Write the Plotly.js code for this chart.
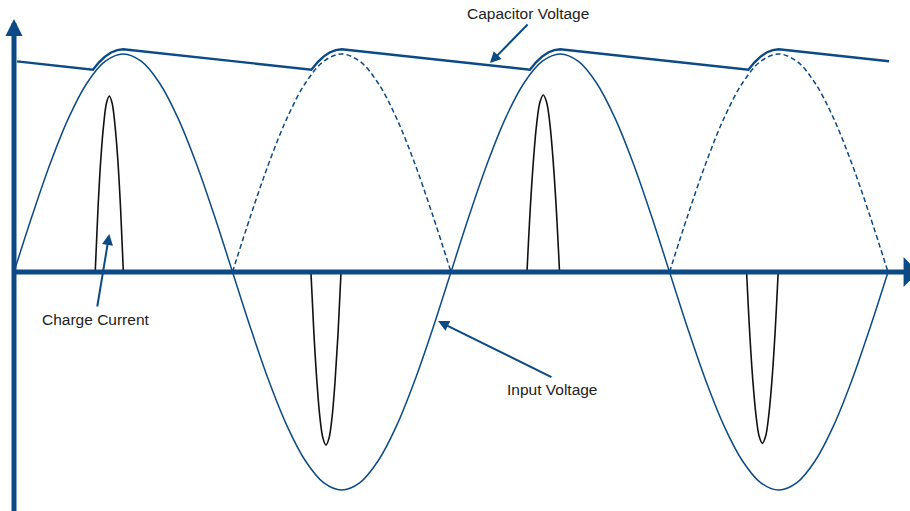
<!DOCTYPE html>
<html>
<head>
<meta charset="utf-8">
<script src="https://cdn.plot.ly/plotly-3.0.1.min.js"></script>
<style>html,body{margin:0;padding:0;background:#fff;}#chart{width:910px;height:511px;}</style>
</head>
<body>
<div id="chart"></div>
<script>
// phase angle (degrees) and normalised voltage
var inputT = [0,15,30,45,60,75,90,105,120,135,150,165,180,195,210,225,240,255,270,285,300,315,330,345,360,
              375,390,405,420,435,450,465,480,495,510,525,540,555,570,585,600,615,630,645,660,675,690,705,720];
var inputV = [0,0.259,0.5,0.707,0.866,0.966,1,0.966,0.866,0.707,0.5,0.259,0,-0.259,-0.5,-0.707,-0.866,-0.966,-1,-0.966,-0.866,-0.707,-0.5,-0.259,0,
              0.259,0.5,0.707,0.866,0.966,1,0.966,0.866,0.707,0.5,0.259,0,-0.259,-0.5,-0.707,-0.866,-0.966,-1,-0.966,-0.866,-0.707,-0.5,-0.259,0];

var rectT1 = [180,195,210,225,240,255,270,285,300,315,330,345,360];
var rectT2 = [540,555,570,585,600,615,630,645,660,675,690,705,720];
var rectV  = [0,0.259,0.5,0.707,0.866,0.966,1,0.966,0.866,0.707,0.5,0.259,0];

var capT = [2.5,65,70,75,80,85,90,245,250,255,260,265,270,425,430,435,440,445,450,605,610,615,620,625,630,720.8];
var capV = [0.966,0.928,0.962,0.988,1.007,1.018,1.022,0.928,0.962,0.988,1.007,1.018,1.022,
            0.928,0.962,0.988,1.007,1.018,1.022,0.928,0.962,0.988,1.007,1.018,1.022,0.967];

var pulse1T = [66.9,69.2,71.5,73.9,76.2,78.5,80.8,83.1,85.5,87.8,90.1];
var pulse1V = [0,0.291,0.516,0.678,0.775,0.807,0.775,0.678,0.516,0.291,0];
var pulse2T = [244.6,247.1,249.6,252.0,254.5,257.0,259.5,262.0,264.4,266.9,269.4];
var pulse2V = [0,-0.286,-0.508,-0.667,-0.762,-0.794,-0.762,-0.667,-0.508,-0.286,0];
var pulse3T = [422.6,425.3,428.0,430.6,433.3,436.0,438.7,441.4,444.0,446.7,449.4];
var pulse3V = [0,0.292,0.520,0.682,0.780,0.812,0.780,0.682,0.520,0.292,0];
var pulse4T = [603.5,606.1,608.7,611.3,613.9,616.5,619.1,621.7,624.3,626.9,629.5];
var pulse4V = [0,-0.283,-0.503,-0.660,-0.755,-0.786,-0.755,-0.660,-0.503,-0.283,0];

var labels = ['Capacitor Voltage','Charge Current','Input Voltage'];

var BLUE = '#0c4a85';
var FONT = 'Liberation Sans, Arial, Helvetica, sans-serif';

function pulse(t, v) {
  return {x: t, y: v, mode: 'lines', line: {color: '#111111', width: 1.6, shape: 'spline'}, hoverinfo: 'skip'};
}

var traces = [
  {x: inputT, y: inputV, mode: 'lines', line: {color: BLUE, width: 1.5, shape: 'spline'}, hoverinfo: 'skip'},
  {x: rectT1, y: rectV, mode: 'lines', line: {color: BLUE, width: 1.5, shape: 'spline', dash: '5px,3px'}, hoverinfo: 'skip'},
  {x: rectT2, y: rectV, mode: 'lines', line: {color: BLUE, width: 1.5, shape: 'spline', dash: '5px,3px'}, hoverinfo: 'skip'},
  {x: capT, y: capV, mode: 'lines', line: {color: BLUE, width: 2.4}, hoverinfo: 'skip'},
  pulse(pulse1T, pulse1V), pulse(pulse2T, pulse2V), pulse(pulse3T, pulse3V), pulse(pulse4T, pulse4V)
];

function arrow(x, y, ax, ay, w, s) {
  return {x: x, y: y, ax: ax, ay: ay, xref: 'x', yref: 'y', axref: 'x', ayref: 'y',
          text: '', showarrow: true, arrowhead: 2, arrowsize: s, arrowwidth: w,
          arrowcolor: BLUE, standoff: 0, startstandoff: 0};
}
function label(txt, x, y) {
  return {x: x, y: y, xref: 'x', yref: 'y', text: txt, showarrow: false,
          xanchor: 'center', yanchor: 'middle', font: {family: FONT, size: 15.5, color: '#222222'}};
}

var axisX = arrow(-1.6, 0, 746.4, 0, 5, 0.68);
axisX.arrowside = 'start';

var annotations = [
  arrow(0, 1.161, 0, -1.15, 5, 0.68),
  axisX,
  arrow(392.1, 0.959, 424.3, 1.142, 2, 1.1),
  arrow(78.5, 0.174, 68.4, -0.165, 2, 1.1),
  arrow(349.3, -0.225, 444.0, -0.486, 2, 1.1),
  label(labels[0], 423.8, 1.188),
  label(labels[1], 67.6, -0.220),
  label(labels[2], 443.2, -0.541)
];

var hidden = {visible: false, showgrid: false, zeroline: false, showticklabels: false, fixedrange: true};
var layout = {
  width: 910, height: 511,
  margin: {l: 0, r: 0, t: 0, b: 0, pad: 0},
  paper_bgcolor: '#ffffff', plot_bgcolor: '#ffffff',
  showlegend: false,
  xaxis: Object.assign({range: [-11.53, 738.1]}, hidden),
  yaxis: Object.assign({range: [-1.0963, 1.2477]}, hidden),
  annotations: annotations
};

Plotly.newPlot('chart', traces, layout, {displayModeBar: false, staticPlot: true});
</script>
</body>
</html>
